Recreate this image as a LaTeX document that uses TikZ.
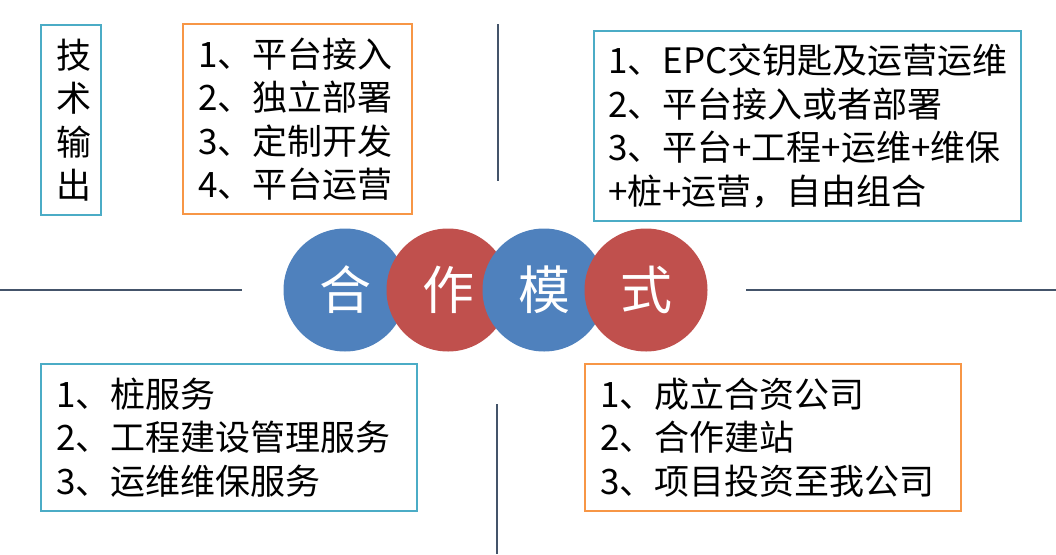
\documentclass[tikz,border=0pt]{standalone}
\usepackage{fontspec}
\setmainfont{Noto Sans CJK SC}
\definecolor{boxblue}{RGB}{75,172,198}
\definecolor{boxorange}{RGB}{247,150,70}
\definecolor{cblue}{RGB}{79,129,189}
\definecolor{cred}{RGB}{192,80,77}
\definecolor{linegray}{RGB}{68,84,106}
\tikzset{
  listbox/.style={draw=#1, line width=2pt, anchor=north west, align=left,
    inner xsep=15pt, inner ysep=0pt, font=\fontsize{35}{43.5}\selectfont},
  disc/.style={circle, fill=#1, minimum size=123pt, inner sep=0pt,
    text=white, font=\fontsize{52}{60}\selectfont},
  sepline/.style={draw=linegray, line width=2.2pt}
}
\begin{document}
\begin{tikzpicture}[x=1pt,y=-1pt]
\useasboundingbox (0,0) rectangle (1056,554);
% boxes
\node[listbox=boxblue, text width=30pt, minimum height=190pt, inner xsep=15pt] (tech) at (40,24) {技\\术\\输\\出};
\node[listbox=boxorange, text width=199pt, minimum height=190pt] (b1) at (182,23) {1、平台接入\\2、独立部署\\3、定制开发\\4、平台运营};
\node[listbox=boxblue, text width=399pt, minimum height=190pt, inner xsep=14pt] (b2) at (593,30) {1、EPC交钥匙及运营运维\\2、平台接入或者部署\\3、平台+工程+运维+维保\\+桩+运营，自由组合};
\node[listbox=boxblue, text width=346pt, minimum height=147pt] (b3) at (40,363) {1、桩服务\\2、工程建设管理服务\\3、运维维保服务};
\node[listbox=boxorange, text width=346pt, minimum height=147pt] (b4) at (584,363) {1、成立合资公司\\2、合作建站\\3、项目投资至我公司};
% separator lines
\coordinate (tl1) at (498,24); \coordinate (tl2) at (498,181);
\coordinate (bl1) at (497,404); \coordinate (bl2) at (497,554);
\coordinate (hl1) at (0,290); \coordinate (hl2) at (242,290);
\coordinate (hr1) at (746,290); \coordinate (hr2) at (1056,290);
\draw[sepline] (tl1) -- (tl2);
\draw[sepline] (bl1) -- (bl2);
\draw[sepline] (hl1) -- (hl2);
\draw[sepline] (hr1) -- (hr2);
% discs
\node[disc=cblue] (c1) at (345,290) {合};
\node[disc=cred] (c2) at (448,290) {作};
\node[disc=cblue] (c3) at (544,290) {模};
\node[disc=cred] (c4) at (646,290) {式};
\end{tikzpicture}
\end{document}
